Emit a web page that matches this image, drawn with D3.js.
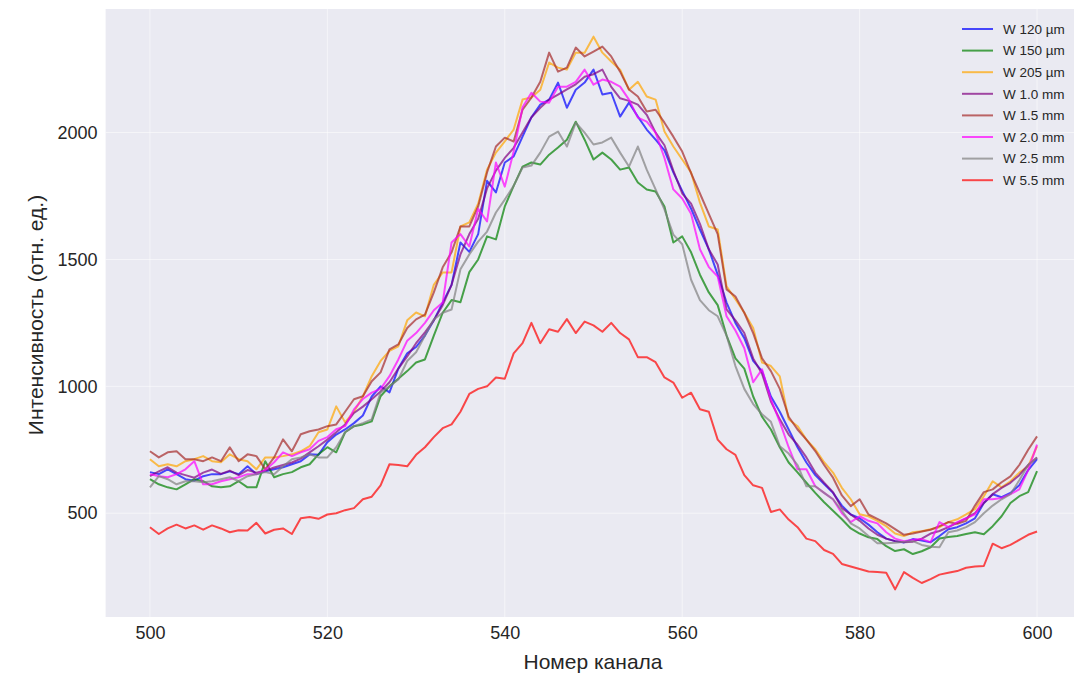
<!DOCTYPE html>
<html><head><meta charset="utf-8">
<script src="https://cdn.jsdelivr.net/npm/d3@7"></script>
<style>html,body{margin:0;padding:0;background:#fff;}svg{display:block;}</style>
</head><body><svg id="c" width="1074" height="674"></svg>
<script>
const channels = d3.range(500, 601);
const xTicks = [500, 520, 540, 560, 580, 600];
const yTicks = [500, 1000, 1500, 2000];
const seriesNames = ["W 120 µm","W 150 µm","W 205 µm","W 1.0 mm","W 1.5 mm","W 2.0 mm","W 2.5 mm","W 5.5 mm"];
const seriesColors = ["blue","green","orange","purple","brown","magenta","gray","red"];

const w120 = [662,654,673,654,634,628,646,654,654,665,654,685,654,665,673,681,693,705,732,730,780,810,830,855,885,960,1000,976,1070,1130,1155,1200,1260,1330,1400,1567,1530,1600,1810,1764,1882,1906,1984,2060,2110,2130,2197,2098,2169,2197,2248,2150,2157,2063,2118,2063,2012,1972,1930,1843,1770,1700,1618,1540,1440,1330,1250,1190,1100,1060,960,900,830,760,700,650,615,580,530,495,480,455,425,400,390,385,398,392,386,410,437,445,460,480,540,575,563,580,610,670,713];
const w150 = [634,614,602,594,614,634,626,606,602,606,626,602,602,705,642,654,662,681,693,732,760,740,819,843,850,862,961,1000,1030,1060,1094,1106,1200,1290,1340,1331,1450,1500,1591,1579,1709,1790,1866,1882,1874,1913,1941,1972,2043,1972,1894,1921,1894,1854,1862,1803,1776,1768,1709,1567,1591,1528,1440,1370,1320,1200,1110,1070,960,880,830,760,700,661,620,580,543,510,476,440,420,405,398,370,351,358,339,350,366,400,406,410,418,425,417,449,488,540,567,583,666];
const w205 = [713,685,693,685,705,713,725,705,701,732,713,705,673,720,720,725,732,744,764,819,830,921,858,900,960,1040,1100,1140,1158,1260,1291,1276,1400,1449,1449,1630,1646,1720,1854,1921,1965,2012,2130,2138,2169,2276,2256,2248,2315,2315,2378,2315,2280,2248,2169,2200,2142,2130,2004,1945,1894,1843,1724,1630,1618,1394,1343,1290,1230,1094,1080,1039,870,843,790,752,701,660,600,555,496,488,470,449,420,410,425,429,437,445,465,476,495,516,567,626,602,626,660,685,764];
const w1_0 = [646,665,681,660,650,640,660,672,655,668,650,670,660,668,680,690,700,715,740,764,790,819,850,895,920,949,980,1016,1070,1118,1170,1213,1260,1320,1400,1520,1600,1660,1780,1850,1900,1940,2000,2060,2098,2130,2150,2170,2190,2220,2230,2248,2180,2135,2125,2110,2070,2000,1950,1850,1760,1720,1640,1540,1480,1303,1260,1210,1110,1050,940,870,810,770,720,660,620,583,520,495,470,440,415,400,390,386,388,400,420,430,445,462,480,500,540,575,600,620,650,690,720];
const w1_5 = [744,720,740,744,713,713,705,720,705,760,705,732,725,673,720,791,744,811,823,830,843,850,900,949,961,1020,1055,1146,1165,1230,1264,1283,1370,1469,1528,1630,1630,1709,1843,1945,1980,1965,2090,2138,2200,2315,2240,2256,2335,2300,2319,2339,2300,2240,2170,2142,2083,2090,2039,1984,1925,1840,1760,1680,1600,1382,1354,1290,1210,1110,1060,990,880,830,790,745,690,640,570,528,555,495,478,460,437,415,420,428,435,449,465,458,470,530,583,594,622,645,690,750,803];
const w2_0 = [654,646,642,654,673,705,614,614,626,634,642,654,654,670,701,740,725,740,752,785,800,831,843,909,950,975,990,1040,1106,1180,1210,1250,1300,1330,1567,1600,1551,1700,1650,1882,1787,1925,2100,2157,2122,2118,2181,2181,2200,2248,2189,2209,2200,2181,2130,2059,2043,2000,1900,1776,1740,1680,1540,1470,1433,1276,1220,1150,1016,1067,949,860,760,673,673,606,580,555,500,465,488,470,460,425,400,390,395,398,386,465,445,465,480,496,555,555,560,575,594,670,770];
const w2_5 = [602,646,634,614,626,626,622,626,634,642,626,646,654,662,654,685,713,720,732,720,720,760,819,843,855,870,976,1000,1027,1100,1134,1200,1264,1290,1303,1461,1520,1570,1610,1685,1736,1790,1862,1870,1921,1984,2004,1945,2039,2000,1953,1961,1980,1921,1866,1945,1854,1776,1697,1598,1560,1420,1340,1300,1276,1200,1080,990,930,890,860,764,735,690,606,606,580,555,510,460,440,410,382,382,384,388,390,375,368,366,425,432,445,465,500,530,555,575,630,690,720];
const w5_5 = [445,418,440,455,440,452,435,452,440,425,433,432,462,420,435,440,418,480,485,478,495,500,512,520,555,565,610,693,690,685,730,760,800,835,850,900,970,990,1000,1035,1030,1130,1170,1250,1170,1225,1215,1265,1210,1255,1240,1215,1250,1210,1185,1115,1115,1095,1035,1015,955,975,910,900,790,752,730,650,610,600,505,515,475,445,400,390,355,340,300,290,280,270,268,265,200,268,245,225,240,258,265,272,285,290,292,380,362,375,395,415,428];

const seriesValues = [w120, w150, w205, w1_0, w1_5, w2_0, w2_5, w5_5];

const svg = d3.select("#c");
const W = 1074, H = 674;
const plot = {left: 105.6, right: 1081.4, top: 9, bottom: 617};
const x = d3.scaleLinear().domain([495, 605]).range([plot.left, plot.right]);
const y = d3.scaleLinear().domain([91, 2487]).range([plot.bottom, plot.top]);

svg.append("rect").attr("x",0).attr("y",0).attr("width",W).attr("height",H).attr("fill","#ffffff");
svg.append("rect").attr("x",plot.left).attr("y",plot.top)
  .attr("width",plot.right-plot.left).attr("height",plot.bottom-plot.top).attr("fill","#EAEAF2");

// grid
const grid = svg.append("g");
grid.selectAll(".vx").data(xTicks).join("line")
  .attr("x1",d=>x(d)).attr("x2",d=>x(d)).attr("y1",plot.top).attr("y2",plot.bottom)
  .attr("stroke","#ffffff").attr("stroke-width",1).attr("opacity",0.55);
grid.selectAll(".hy").data(yTicks).join("line")
  .attr("x1",plot.left).attr("x2",plot.right).attr("y1",d=>y(d)).attr("y2",d=>y(d))
  .attr("stroke","#ffffff").attr("stroke-width",1).attr("opacity",0.55);

// axes
const font = "'Liberation Sans', Arial, sans-serif";
const xAxis = d3.axisBottom(x).tickValues(xTicks).tickSize(0).tickPadding(9).tickFormat(d3.format("d"));
const gx = svg.append("g").attr("transform",`translate(0,${plot.bottom})`).call(xAxis);
gx.select(".domain").remove();
gx.selectAll("text").attr("font-family",font).attr("font-size",18).attr("fill","#262626");

const yAxis = d3.axisLeft(y).tickValues(yTicks).tickSize(0).tickPadding(8).tickFormat(d3.format("d"));
const gy = svg.append("g").attr("transform",`translate(${plot.left},0)`).call(yAxis);
gy.select(".domain").remove();
gy.selectAll("text").attr("font-family",font).attr("font-size",18).attr("fill","#262626");

svg.append("text").attr("x",593).attr("y",669).attr("text-anchor","middle")
  .attr("font-family",font).attr("font-size",21).attr("fill","#262626").text("Номер канала");
svg.append("text").attr("transform","translate(43,315) rotate(-90)").attr("text-anchor","middle")
  .attr("font-family",font).attr("font-size",21).attr("fill","#262626").text("Интенсивность (отн. ед.)");

// lines
svg.append("clipPath").attr("id","pc").append("rect")
  .attr("x",plot.left).attr("y",plot.top).attr("width",plot.right-plot.left).attr("height",plot.bottom-plot.top);
const line = d3.line().x((d,i)=>x(channels[i])).y(d=>y(d));
const lg = svg.append("g").attr("clip-path","url(#pc)");
seriesValues.forEach((vals,k)=>{
  lg.append("path").datum(vals).attr("d",line).attr("fill","none")
    .attr("stroke",seriesColors[k]).attr("stroke-opacity",0.7).attr("stroke-width",2)
    .attr("stroke-linejoin","round");
});

// legend
const leg = svg.append("g");
seriesNames.forEach((name,k)=>{
  const yy = 29 + k*21.6;
  leg.append("line").attr("x1",962).attr("x2",993).attr("y1",yy).attr("y2",yy)
    .attr("stroke",seriesColors[k]).attr("stroke-opacity",0.7).attr("stroke-width",2);
  leg.append("text").attr("x",1003).attr("y",yy+4.8).attr("font-family",font).attr("font-size",13.5)
    .attr("fill","#262626").text(name);
});
</script></body></html>
